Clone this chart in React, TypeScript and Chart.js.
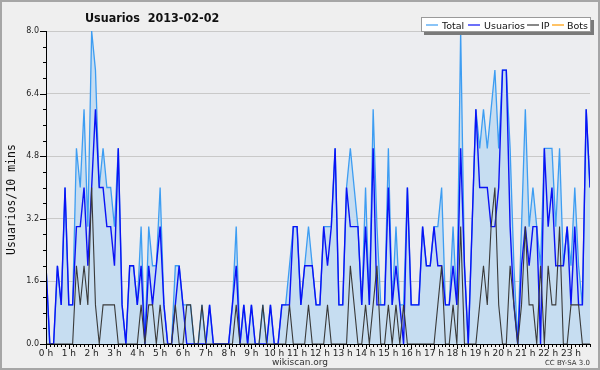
import React, { useEffect, useRef } from 'react';
import { Chart, registerables } from 'chart.js';

Chart.register(...registerables);

const chartTitle = 'Usuarios  2013-02-02';
const yAxisTitle = 'Usuarios/10 mins';
const footerSite = 'wikiscan.org';
const footerLicense = 'CC BY-SA 3.0';

const hourLabels = ['0 h', '1 h', '2 h', '3 h', '4 h', '5 h', '6 h', '7 h', '8 h', '9 h', '10 h', '11 h',
  '12 h', '13 h', '14 h', '15 h', '16 h', '17 h', '18 h', '19 h', '20 h', '21 h', '22 h', '23 h'];
const yTickValues = [0, 1.6, 3.2, 4.8, 6.4, 8.0];
const slotsPerHour = 6;

const seriesNames = ['Total', 'Usuarios', 'IP', 'Bots'];

const totalValues = [
  2, 0, 0, 2, 1, 4, 1, 1, 5, 4, 6, 3, 8, 7, 4, 5, 4, 4, 3, 5, 1, 0, 2, 2,
  1, 3, 0, 3, 2, 2, 4, 1, 0, 0, 2, 2, 1, 1, 1, 0, 0, 1, 0, 1, 0, 0, 0, 0,
  0, 1, 3, 0, 1, 0, 1, 0, 0, 1, 0, 1, 0, 0, 1, 1, 2, 3, 3, 1, 2, 3, 2, 1,
  1, 3, 3, 3, 5, 1, 1, 4, 5, 4, 3, 1, 4, 1, 6, 3, 1, 1, 5, 1, 3, 1, 1, 4,
  1, 1, 1, 3, 2, 2, 3, 3, 4, 1, 1, 3, 1, 8, 2, 0, 3, 6, 5, 6, 5, 6, 7, 5,
  7, 7, 5, 2, 0, 3, 6, 3, 4, 3, 2, 5, 5, 5, 3, 5, 2, 3, 2, 4, 2, 1, 6, 4,
];

const usuariosValues = [
  2, 0, 0, 2, 1, 4, 1, 1, 3, 3, 4, 2, 4, 6, 4, 4, 3, 3, 2, 5, 1, 0, 2, 2,
  1, 2, 0, 2, 1, 2, 3, 1, 0, 0, 1, 2, 1, 0, 0, 0, 0, 0, 0, 1, 0, 0, 0, 0,
  0, 1, 2, 0, 1, 0, 1, 0, 0, 0, 0, 1, 0, 0, 1, 1, 1, 3, 3, 1, 2, 2, 2, 1,
  1, 3, 2, 3, 5, 1, 1, 4, 3, 3, 3, 1, 3, 1, 5, 1, 1, 1, 4, 1, 2, 1, 0, 4,
  1, 1, 1, 3, 2, 2, 3, 2, 2, 1, 1, 2, 1, 5, 2, 0, 3, 6, 4, 4, 4, 3, 3, 4,
  7, 7, 3, 1, 0, 2, 3, 2, 3, 3, 0, 5, 3, 4, 2, 2, 2, 3, 1, 3, 1, 1, 6, 4,
];

const ipValues = [
  0, 0, 0, 0, 0, 0, 0, 0, 2, 1, 2, 1, 4, 1, 0, 1, 1, 1, 1, 0, 0, 0, 0, 0,
  0, 1, 0, 1, 1, 0, 1, 0, 0, 0, 1, 0, 0, 1, 1, 0, 0, 1, 0, 0, 0, 0, 0, 0,
  0, 0, 1, 0, 0, 0, 0, 0, 0, 1, 0, 0, 0, 0, 0, 0, 1, 0, 0, 0, 0, 1, 0, 0,
  0, 0, 1, 0, 0, 0, 0, 0, 2, 1, 0, 0, 1, 0, 1, 2, 0, 0, 1, 0, 1, 0, 1, 0,
  0, 0, 0, 0, 0, 0, 0, 1, 2, 0, 0, 1, 0, 3, 0, 0, 0, 0, 1, 2, 1, 3, 4, 1,
  0, 0, 2, 1, 0, 1, 3, 1, 1, 0, 2, 0, 2, 1, 1, 3, 0, 0, 1, 1, 1, 0, 0, 0,
];

const botsValues = [
  0, 0, 0, 0, 0, 0, 0, 0, 0, 0, 0, 0, 0, 0, 0, 0, 0, 0, 0, 0, 0, 0, 0, 0,
  0, 0, 0, 0, 0, 0, 0, 0, 0, 0, 0, 0, 0, 0, 0, 0, 0, 0, 0, 0, 0, 0, 0, 0,
  0, 0, 0, 0, 0, 0, 0, 0, 0, 0, 0, 0, 0, 0, 0, 0, 0, 0, 0, 0, 0, 0, 0, 0,
  0, 0, 0, 0, 0, 0, 0, 0, 0, 0, 0, 0, 0, 0, 0, 0, 0, 0, 0, 0, 0, 0, 0, 0,
  0, 0, 0, 0, 0, 0, 0, 0, 0, 0, 0, 0, 0, 0, 0, 0, 0, 0, 0, 0, 0, 0, 0, 0,
  0, 0, 0, 0, 0, 0, 0, 0, 0, 0, 0, 0, 0, 0, 0, 0, 0, 0, 0, 0, 0, 0, 0, 0,
];

const COLORS = {
  total: '#3d9df2',
  totalFill: '#c6ddf1',
  usuarios: '#0a12f5',
  ip: '#3a3a3a',
  bots: '#ff9c00',
  page: '#efefef',
  plot: '#ecedf0',
  grid: '#c9c9c9',
  frame: '#a6a6a6',
};

const FONT = 'DejaVu Sans';

const toPoints = (arr: number[]) => arr.map((v, i) => ({ x: i, y: v }));

const decorPlugin = {
  id: 'decor',
  beforeDraw(chart: any) {
    const { ctx, chartArea, width, height } = chart;
    ctx.save();
    ctx.fillStyle = COLORS.page;
    ctx.fillRect(0, 0, width, height);
    ctx.strokeStyle = COLORS.frame;
    ctx.lineWidth = 2;
    ctx.strokeRect(1, 1, width - 2, height - 2);
    ctx.fillStyle = COLORS.plot;
    ctx.fillRect(chartArea.left, chartArea.top, chartArea.right - chartArea.left, chartArea.bottom - chartArea.top);
    ctx.restore();
  },
  afterDatasetsDraw(chart: any) {
    const { ctx, chartArea, scales } = chart;
    const xs = scales.x;
    const ys = scales.y;
    ctx.save();
    ctx.strokeStyle = '#000';
    ctx.lineWidth = 1;
    ctx.beginPath();
    ctx.moveTo(chartArea.left + 0.5, chartArea.top);
    ctx.lineTo(chartArea.left + 0.5, chartArea.bottom + 0.5);
    ctx.lineTo(chartArea.right, chartArea.bottom + 0.5);
    ctx.stroke();
    ctx.beginPath();
    const n = totalValues.length;
    for (let i = 0; i <= n; i++) {
      const px = Math.round(xs.getPixelForValue(i)) + 0.5;
      if (px > chartArea.right + 1) break;
      const len = i % slotsPerHour === 0 ? 5 : 3;
      ctx.moveTo(px, chartArea.bottom);
      ctx.lineTo(px, chartArea.bottom + len);
    }
    for (let k = 0; k <= 20; k++) {
      const v = k * 0.4;
      const py = Math.round(ys.getPixelForValue(v)) + 0.5;
      const len = k % 4 === 0 ? 6 : 3;
      ctx.moveTo(chartArea.left, py);
      ctx.lineTo(chartArea.left - len, py);
    }
    ctx.stroke();
    ctx.restore();
  },
  afterDraw(chart: any) {
    const { ctx, chartArea } = chart;
    ctx.save();
    // title (horizontally condensed)
    ctx.save();
    ctx.fillStyle = '#111';
    ctx.font = `bold 13px ${FONT}`;
    ctx.textBaseline = 'alphabetic';
    ctx.textAlign = 'left';
    ctx.translate(85, 22);
    ctx.scale(0.86, 1);
    ctx.fillText(chartTitle, 0, 0);
    ctx.restore();
    // y axis title
    ctx.save();
    ctx.fillStyle = '#111';
    ctx.translate(12, (chartArea.top + chartArea.bottom) / 2 + 12);
    ctx.rotate(-Math.PI / 2);
    ctx.font = `11.5px "DejaVu Sans Mono"`;
    ctx.textAlign = 'center';
    ctx.textBaseline = 'middle';
    ctx.fillText(yAxisTitle, 0, 0);
    ctx.restore();
    // footer
    ctx.font = `9px ${FONT}`;
    ctx.textAlign = 'center';
    ctx.fillStyle = '#333';
    ctx.fillText(footerSite, 300, 365);
    ctx.font = `7px ${FONT}`;
    ctx.textAlign = 'right';
    ctx.fillText(footerLicense, 590, 365);
    // legend
    const lx = 421, ly = 17, lw = 170, lh = 15;
    ctx.fillStyle = '#7a7a7a';
    ctx.fillRect(lx + 3, ly + 3, lw, lh);
    ctx.fillStyle = '#ffffff';
    ctx.fillRect(lx, ly, lw, lh);
    ctx.strokeStyle = '#9a9a9a';
    ctx.lineWidth = 1;
    ctx.strokeRect(lx + 0.5, ly + 0.5, lw - 1, lh - 1);
    const items = [
      { name: seriesNames[0], color: COLORS.total, lineX: 426, textX: 442 },
      { name: seriesNames[1], color: COLORS.usuarios, lineX: 468, textX: 484 },
      { name: seriesNames[2], color: COLORS.ip, lineX: 527, textX: 541 },
      { name: seriesNames[3], color: COLORS.bots, lineX: 552, textX: 567 },
    ];
    ctx.font = `9.5px ${FONT}`;
    ctx.textAlign = 'left';
    ctx.textBaseline = 'alphabetic';
    for (const it of items) {
      ctx.strokeStyle = it.color;
      ctx.lineWidth = 1.2;
      ctx.beginPath();
      ctx.moveTo(it.lineX, ly + 8);
      ctx.lineTo(it.lineX + 12, ly + 8);
      ctx.stroke();
      ctx.fillStyle = '#111';
      ctx.fillText(it.name, it.textX, ly + 11.5);
    }
    ctx.restore();
  },
};

export default function App() {
  const canvasRef = useRef<HTMLCanvasElement | null>(null);

  useEffect(() => {
    document.body.style.margin = '0';
    const canvas = canvasRef.current;
    if (!canvas) return;
    const chart = new Chart(canvas, {
      type: 'line',
      data: {
        datasets: [
          {
            label: seriesNames[2],
            data: toPoints(ipValues),
            borderColor: COLORS.ip,
            borderWidth: 1.1,
            pointRadius: 0,
            fill: false,
            tension: 0,
            order: 0,
          },
          {
            label: seriesNames[1],
            data: toPoints(usuariosValues),
            borderColor: COLORS.usuarios,
            borderWidth: 1.4,
            pointRadius: 0,
            fill: false,
            tension: 0,
            order: 1,
          },
          {
            label: seriesNames[0],
            data: toPoints(totalValues),
            borderColor: COLORS.total,
            backgroundColor: COLORS.totalFill,
            borderWidth: 1.3,
            pointRadius: 0,
            fill: 'origin',
            tension: 0,
            order: 2,
          },
          {
            label: seriesNames[3],
            data: toPoints(botsValues),
            borderColor: COLORS.bots,
            borderWidth: 1,
            pointRadius: 0,
            fill: false,
            tension: 0,
            order: 3,
          },
        ],
      },
      options: {
        responsive: false,
        animation: false,
        events: [],
        layout: { padding: { top: 31, right: 10, left: 0, bottom: 0 } },
        plugins: {
          legend: { display: false },
          title: { display: false },
          tooltip: { enabled: false },
        },
        scales: {
          x: {
            type: 'linear',
            min: 0,
            max: totalValues.length - 1,
            afterFit(scale: any) { scale.height = 26; },
            afterBuildTicks(scale: any) {
              scale.ticks = hourLabels.map((_, h) => ({ value: h * slotsPerHour }));
            },
            grid: { display: false, drawTicks: false },
            border: { display: false },
            ticks: {
              autoSkip: false,
              maxRotation: 0,
              padding: 4,
              color: '#222',
              font: { family: FONT, size: 9 },
              callback: (value: any) => hourLabels[Math.round(Number(value) / slotsPerHour)] ?? '',
            },
          },
          y: {
            min: 0,
            max: 8,
            afterFit(scale: any) { scale.width = 46; },
            afterBuildTicks(scale: any) {
              scale.ticks = yTickValues.map((v) => ({ value: v }));
            },
            grid: { color: COLORS.grid, drawTicks: false, lineWidth: 1 },
            border: { display: false },
            ticks: {
              padding: 7,
              color: '#222',
              font: { family: FONT, size: 8 },
              callback: (value: any) => Number(value).toFixed(1),
            },
          },
        },
      },
      plugins: [decorPlugin],
    });
    return () => chart.destroy();
  }, []);

  return (
    <div style={{ width: 600, height: 370, position: 'relative' }}>
      <canvas ref={canvasRef} width={600} height={370} style={{ display: 'block', width: 600, height: 370 }} />
    </div>
  );
}
